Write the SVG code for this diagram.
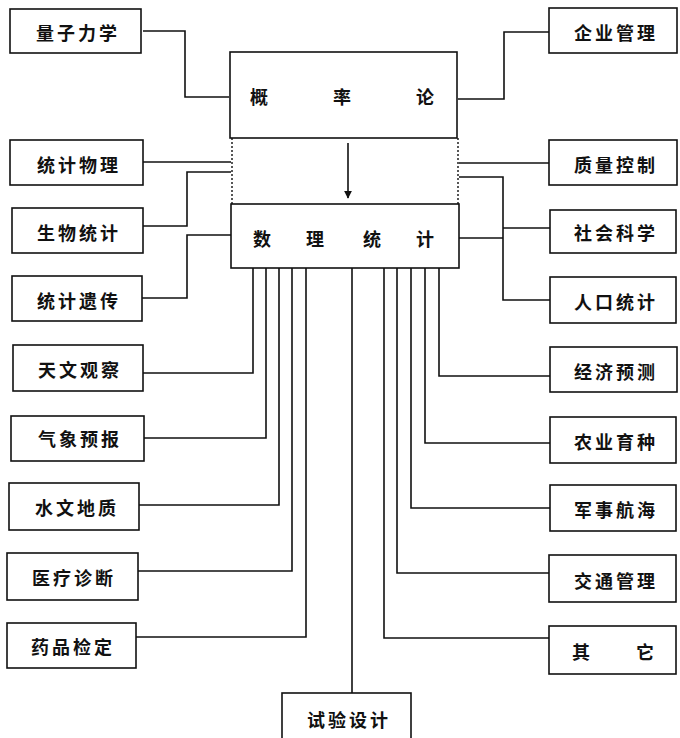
<svg xmlns="http://www.w3.org/2000/svg" width="680" height="738" viewBox="0 0 680 738">
<style>
rect.b{fill:none;stroke:#111;stroke-width:1.6}
.t{font-family:"Noto Sans CJK SC","Noto Sans",sans-serif;font-size:18px;font-weight:bold;fill:#111;text-anchor:middle;dominant-baseline:central;letter-spacing:3px}
.c{font-family:"Noto Sans CJK SC","Noto Sans",sans-serif;font-size:18px;font-weight:bold;fill:#111;text-anchor:middle;dominant-baseline:central}
#connectors polyline,#connectors line{fill:none;stroke:#111;stroke-width:1.6}
.dash{stroke:#111;stroke-width:1.4;stroke-dasharray:2 2;fill:none}
</style>
<defs>
<marker id="ah" viewBox="0 0 10 10" refX="9" refY="5" markerWidth="5" markerHeight="5" orient="auto"><path d="M0,0 L10,5 L0,10 z" fill="#111"/></marker>
</defs>
<rect width="680" height="738" fill="#fff"/>

<g id="gailvlun"><rect class="b" x="230" y="52" width="227" height="86"/>
<text class="c" x="259" y="96">概</text><text class="c" x="342" y="96">率</text><text class="c" x="425" y="96">论</text></g>
<g id="middle"><line class="dash" x1="232" y1="138" x2="232" y2="204"/><line class="dash" x1="458" y1="138" x2="458" y2="204"/></g>
<g id="shulitongji"><rect class="b" x="231" y="204" width="228" height="64"/>
<text class="c" x="262" y="238">数</text><text class="c" x="315" y="238">理</text><text class="c" x="372" y="238">统</text><text class="c" x="425" y="238">计</text></g>

<g id="n1"><rect class="b" x="10" y="9" width="131" height="44"/><text class="t" x="78" y="32">量子力学</text></g>
<g id="n2"><rect class="b" x="10" y="140" width="133" height="45"/><text class="t" x="79" y="164">统计物理</text></g>
<g id="n3"><rect class="b" x="12" y="208" width="131" height="45"/><text class="t" x="79" y="232">生物统计</text></g>
<g id="n4"><rect class="b" x="12" y="276" width="130" height="45"/><text class="t" x="79" y="300">统计遗传</text></g>
<g id="n5"><rect class="b" x="13" y="345" width="130" height="46"/><text class="t" x="80" y="369">天文观察</text></g>
<g id="n6"><rect class="b" x="11" y="416" width="133" height="45"/><text class="t" x="80" y="438">气象预报</text></g>
<g id="n7"><rect class="b" x="9" y="483" width="130" height="47"/><text class="t" x="77" y="507">水文地质</text></g>
<g id="n8"><rect class="b" x="7" y="553" width="131" height="47"/><text class="t" x="74" y="577">医疗诊断</text></g>
<g id="n9"><rect class="b" x="7" y="623" width="129" height="45"/><text class="t" x="73" y="646">药品检定</text></g>

<g id="r1"><rect class="b" x="549" y="8" width="128" height="45"/><text class="t" x="616" y="32">企业管理</text></g>
<g id="r2"><rect class="b" x="549" y="140" width="128" height="45"/><text class="t" x="616" y="164">质量控制</text></g>
<g id="r3"><rect class="b" x="550" y="210" width="126" height="43"/><text class="t" x="616" y="232">社会科学</text></g>
<g id="r4"><rect class="b" x="550" y="277" width="126" height="46"/><text class="t" x="616" y="301">人口统计</text></g>
<g id="r5"><rect class="b" x="550" y="347" width="127" height="45"/><text class="t" x="616" y="371">经济预测</text></g>
<g id="r6"><rect class="b" x="550" y="417" width="126" height="46"/><text class="t" x="616" y="441">农业育种</text></g>
<g id="r7"><rect class="b" x="550" y="485" width="126" height="46"/><text class="t" x="616" y="509">军事航海</text></g>
<g id="r8"><rect class="b" x="549" y="555" width="127" height="47"/><text class="t" x="616" y="580">交通管理</text></g>
<g id="r9"><rect class="b" x="549" y="626" width="127" height="48"/><text class="c" x="581" y="651">其</text><text class="c" x="645" y="651">它</text></g>
<g id="bottom"><rect class="b" x="282" y="693" width="129" height="60"/><text class="t" x="349" y="719">试验设计</text></g>

<g id="connectors">
<line x1="348" y1="143" x2="348" y2="198" marker-end="url(#ah)"/>
<polyline points="143,31 185,31 185,97 229,97"/>
<polyline points="549,32 504,32 504,99 458,99"/>
<line x1="143" y1="162" x2="231" y2="162"/>
<polyline points="143,226 187,226 187,172 231,172"/>
<polyline points="142,298 187,298 187,235 231,235"/>
<line x1="459" y1="163" x2="549" y2="163"/>
<polyline points="459,177 503,177 503,300 550,300"/>
<line x1="503" y1="228" x2="550" y2="228"/>
<line x1="459" y1="238" x2="503" y2="238"/>
<polyline points="253,268 253,373 143,373"/>
<polyline points="266,268 266,438 144,438"/>
<polyline points="279,268 279,505 139,505"/>
<polyline points="292,268 292,571 138,571"/>
<polyline points="306,268 306,637 136,637"/>
<line x1="352" y1="268" x2="352" y2="693"/>
<polyline points="439,268 439,376 550,376"/>
<polyline points="425,268 425,443 550,443"/>
<polyline points="411,268 411,508 550,508"/>
<polyline points="397,268 397,573 549,573"/>
<polyline points="384,268 384,638 549,638"/>
</g>
</svg>
